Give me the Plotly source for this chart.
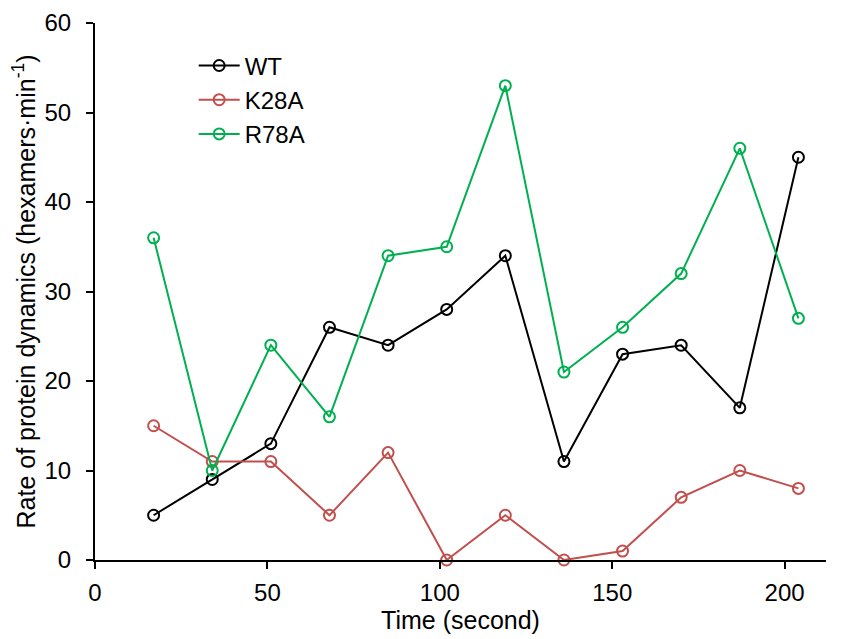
import plotly.graph_objects as go

time_s = [17, 34, 51, 68, 85, 102, 119, 136, 153, 170, 187, 204]
wt = [5, 9, 13, 26, 24, 28, 34, 11, 23, 24, 17, 45]
k28a = [15, 11, 11, 5, 12, 0, 5, 0, 1, 7, 10, 8]
r78a = [36, 10, 24, 16, 34, 35, 53, 21, 26, 32, 46, 27]

series = [("WT", wt, "#000000"), ("K28A", k28a, "#C0504D"), ("R78A", r78a, "#00B050")]

fig = go.Figure()
for name, vals, col in series:
    fig.add_trace(go.Scatter(
        x=time_s, y=vals, name=name, mode="lines+markers",
        line=dict(color=col, width=2),
        marker=dict(symbol="circle-open", size=11, color=col, line=dict(width=2, color=col)),
        cliponaxis=False,
    ))

font = "Liberation Sans, Arial, sans-serif"
# the page body has an 8px margin, so the figure is sized to fill the rest of the window
fig.update_layout(
    width=836, height=631,
    margin=dict(l=87, r=18, t=15, b=79, autoexpand=False),
    plot_bgcolor="white", paper_bgcolor="white",
    font=dict(family=font, size=24, color="black"),
    showlegend=True,
    legend=dict(x=0.135, y=0.962, xanchor="left", yanchor="top",
                bgcolor="rgba(0,0,0,0)", font=dict(size=24), itemwidth=41,
                tracegroupgap=0),
    xaxis=dict(range=[0, 212], tickvals=[0, 50, 100, 150, 200],
               showline=True, linecolor="black", linewidth=2,
               ticks="outside", ticklen=7, tickwidth=2, tickcolor="black",
               ticklabelstandoff=3, automargin=False,
               showgrid=False, zeroline=False,
               title=dict(text="Time (second)", font=dict(size=25), standoff=6)),
    yaxis=dict(range=[0, 60], tickvals=[0, 10, 20, 30, 40, 50, 60],
               showline=True, linecolor="black", linewidth=2,
               ticks="outside", ticklen=7, tickwidth=2, tickcolor="black",
               ticklabelstandoff=10, automargin=False,
               showgrid=False, zeroline=False,
               title=dict(text="Rate of protein dynamics (hexamers·min<sup>-1</sup>)",
                          font=dict(size=25), standoff=4)),
)

fig.write_html("out.html")
